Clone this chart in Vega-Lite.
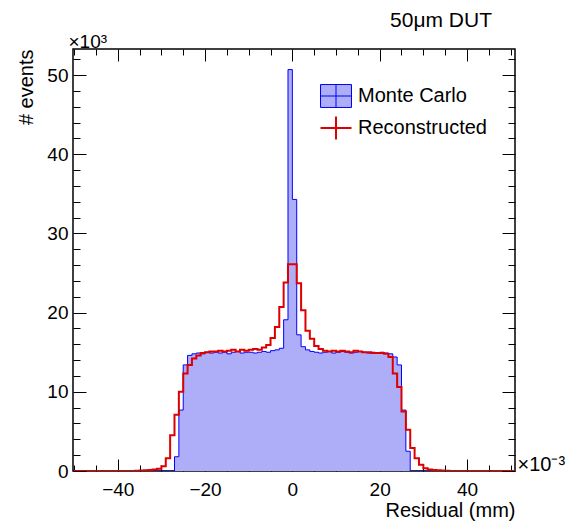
{
  "$schema": "https://vega.github.io/schema/vega-lite/v6.json",
  "width": 442,
  "height": 422,
  "autosize": {"type": "none"},
  "padding": {"left": 73, "top": 49, "right": 60, "bottom": 50},
  "background": "white",
  "config": {
    "view": {"stroke": "black", "strokeWidth": 1.5},
    "font": "Liberation Sans",
    "axis": {"domain": false, "grid": false, "tickColor": "black", "tickWidth": 1, "labelColor": "black", "titleColor": "black", "titleFontWeight": "normal", "labelFont": "Liberation Sans", "titleFont": "Liberation Sans"}
  },
  "title": {"text": "50μm DUT", "anchor": "end", "frame": "group", "fontSize": 21, "fontWeight": "normal", "font": "Liberation Sans", "color": "black", "offset": 1, "dx": -23},
  "data": {"values": [
    {"b": -50, "mc": 0, "rc": 0}, {"b": -49, "mc": 0, "rc": 0}, {"b": -48, "mc": 0, "rc": 0}, {"b": -47, "mc": 0, "rc": 0},
    {"b": -46, "mc": 0, "rc": 0}, {"b": -45, "mc": 0, "rc": 0}, {"b": -44, "mc": 0, "rc": 0}, {"b": -43, "mc": 0, "rc": 0},
    {"b": -42, "mc": 0, "rc": 0}, {"b": -41, "mc": 0, "rc": 0}, {"b": -40, "mc": 0, "rc": 0}, {"b": -39, "mc": 0, "rc": 0},
    {"b": -38, "mc": 0, "rc": 0}, {"b": -37, "mc": 0, "rc": 0}, {"b": -36, "mc": 0, "rc": 0.03}, {"b": -35, "mc": 0, "rc": 0.05},
    {"b": -34, "mc": 0, "rc": 0.08}, {"b": -33, "mc": 0, "rc": 0.12}, {"b": -32, "mc": 0, "rc": 0.2}, {"b": -31, "mc": 0, "rc": 0.3},
    {"b": -30, "mc": 0, "rc": 0.6}, {"b": -29, "mc": 0, "rc": 1.6}, {"b": -28, "mc": 0, "rc": 4.5}, {"b": -27, "mc": 1.8, "rc": 7.1},
    {"b": -26, "mc": 7.7, "rc": 10.0}, {"b": -25, "mc": 13.4, "rc": 12.3}, {"b": -24, "mc": 14.6, "rc": 13.4}, {"b": -23, "mc": 14.8, "rc": 14.2},
    {"b": -22, "mc": 14.9, "rc": 14.6}, {"b": -21, "mc": 14.8, "rc": 14.9}, {"b": -20, "mc": 15.0, "rc": 15.0}, {"b": -19, "mc": 14.9, "rc": 15.1},
    {"b": -18, "mc": 15.0, "rc": 15.1}, {"b": -17, "mc": 14.9, "rc": 15.2}, {"b": -16, "mc": 15.0, "rc": 15.1}, {"b": -15, "mc": 14.8, "rc": 15.2},
    {"b": -14, "mc": 15.0, "rc": 15.3}, {"b": -13, "mc": 15.1, "rc": 15.1}, {"b": -12, "mc": 14.9, "rc": 15.3}, {"b": -11, "mc": 15.0, "rc": 15.2},
    {"b": -10, "mc": 15.0, "rc": 15.3}, {"b": -9, "mc": 14.9, "rc": 15.4}, {"b": -8, "mc": 15.0, "rc": 15.3}, {"b": -7, "mc": 15.1, "rc": 15.6},
    {"b": -6, "mc": 15.0, "rc": 15.9}, {"b": -5, "mc": 15.2, "rc": 16.8}, {"b": -4, "mc": 15.3, "rc": 18.2}, {"b": -3, "mc": 15.5, "rc": 20.7},
    {"b": -2, "mc": 19.1, "rc": 23.8}, {"b": -1, "mc": 50.7, "rc": 26.1}, {"b": 0, "mc": 34.3, "rc": 26.1}, {"b": 1, "mc": 17.2, "rc": 23.7},
    {"b": 2, "mc": 15.7, "rc": 20.3}, {"b": 3, "mc": 15.3, "rc": 17.7}, {"b": 4, "mc": 15.1, "rc": 16.7}, {"b": 5, "mc": 15.0, "rc": 15.8},
    {"b": 6, "mc": 14.9, "rc": 15.4}, {"b": 7, "mc": 15.0, "rc": 15.2}, {"b": 8, "mc": 15.1, "rc": 15.1}, {"b": 9, "mc": 14.9, "rc": 15.2},
    {"b": 10, "mc": 15.0, "rc": 15.1}, {"b": 11, "mc": 15.1, "rc": 15.2}, {"b": 12, "mc": 15.0, "rc": 15.1}, {"b": 13, "mc": 14.9, "rc": 15.0},
    {"b": 14, "mc": 15.0, "rc": 15.2}, {"b": 15, "mc": 15.1, "rc": 15.1}, {"b": 16, "mc": 15.0, "rc": 15.0}, {"b": 17, "mc": 14.9, "rc": 15.0},
    {"b": 18, "mc": 15.0, "rc": 14.9}, {"b": 19, "mc": 14.9, "rc": 14.9}, {"b": 20, "mc": 15.0, "rc": 14.9}, {"b": 21, "mc": 14.9, "rc": 14.8},
    {"b": 22, "mc": 14.8, "rc": 14.4}, {"b": 23, "mc": 14.4, "rc": 12.3}, {"b": 24, "mc": 13.4, "rc": 10.6}, {"b": 25, "mc": 7.7, "rc": 7.5},
    {"b": 26, "mc": 2.5, "rc": 5.2}, {"b": 27, "mc": 0, "rc": 2.9}, {"b": 28, "mc": 0, "rc": 1.6}, {"b": 29, "mc": 0, "rc": 0.8},
    {"b": 30, "mc": 0, "rc": 0.35}, {"b": 31, "mc": 0, "rc": 0.2}, {"b": 32, "mc": 0, "rc": 0.12}, {"b": 33, "mc": 0, "rc": 0.08},
    {"b": 34, "mc": 0, "rc": 0.05}, {"b": 35, "mc": 0, "rc": 0.03}, {"b": 36, "mc": 0, "rc": 0}, {"b": 37, "mc": 0, "rc": 0},
    {"b": 38, "mc": 0, "rc": 0}, {"b": 39, "mc": 0, "rc": 0}, {"b": 40, "mc": 0, "rc": 0}, {"b": 41, "mc": 0, "rc": 0},
    {"b": 42, "mc": 0, "rc": 0}, {"b": 43, "mc": 0, "rc": 0}, {"b": 44, "mc": 0, "rc": 0}, {"b": 45, "mc": 0, "rc": 0},
    {"b": 46, "mc": 0, "rc": 0}, {"b": 47, "mc": 0, "rc": 0}, {"b": 48, "mc": 0, "rc": 0}, {"b": 49, "mc": 0, "rc": 0},
    {"b": 50, "mc": 0, "rc": 0}, {"b": 51, "mc": 0, "rc": 0}
  ]},
  "layer": [
    {
      "mark": {"type": "area", "interpolate": "step-after", "fill": "#aeaef8", "clip": true},
      "encoding": {
        "x": {"field": "b", "type": "quantitative", "scale": {"domain": [-50.25, 51], "nice": false, "zero": false},
          "axis": {"orient": "bottom", "values": [-40, -20, 0, 20, 40], "format": "d", "tickSize": -12, "labelPadding": 21, "labelFontSize": 19, "labelFlush": false, "labelOverlap": false,
            "title": "Residual (mm)", "titleAnchor": "end", "titleFontSize": 20, "titleBaseline": "alphabetic", "titleY": 45}},
        "y": {"field": "mc", "type": "quantitative", "scale": {"domain": [0, 53.3], "nice": false},
          "axis": {"orient": "left", "values": [0, 10, 20, 30, 40, 50], "format": "d", "tickSize": -13, "labelPadding": 18, "labelFontSize": 19, "labelFlush": false, "labelOverlap": false,
            "title": "# events", "titleAnchor": "end", "titleFontSize": 20, "titleBaseline": "alphabetic", "titleX": -41}}
      }
    },
    {
      "mark": {"type": "line", "interpolate": "step-after", "strokeWidth": 1, "clip": true},
      "encoding": {
        "x": {"field": "b", "type": "quantitative",
          "axis": {"orient": "bottom", "values": [-50, -45, -35, -30, -25, -15, -10, -5, 5, 10, 15, 25, 30, 35, 45, 50], "tickSize": -6, "labels": false,
            "title": "×10⁻³", "titleFontSize": 20, "titleAngle": 0, "titleAlign": "left", "titleBaseline": "alphabetic", "titleX": 444, "titleY": -1}},
        "y": {"field": "mc", "type": "quantitative",
          "axis": {"orient": "left", "values": [2, 4, 6, 8, 12, 14, 16, 18, 22, 24, 26, 28, 32, 34, 36, 38, 42, 44, 46, 48, 52], "tickSize": -7, "labels": false,
            "title": "×10³", "titleFontSize": 19, "titleAngle": 0, "titleAlign": "left", "titleBaseline": "alphabetic", "titleX": -5, "titleY": -2}},
        "stroke": {"datum": "Monte Carlo", "type": "nominal",
          "scale": {"domain": ["Monte Carlo", "Reconstructed"], "range": ["#0000ff", "#dd0000"]},
          "legend": {"orient": "none", "legendX": 253, "legendY": 37, "title": null, "padding": 0,
            "symbolSize": 961, "labelFont": "Liberation Sans", "labelFontSize": 20, "labelColor": "black", "labelOffset": 12, "rowPadding": 2,
            "encode": {"symbols": {"update": {
              "shape": {"signal": "datum.value === 'Monte Carlo' ? 'M-1,-0.74H1V0.74H-1ZM-1,0H1M0,-0.74V0.74' : 'M-1,0H1M0,-0.74V0.74'"},
              "fill": {"signal": "datum.value === 'Monte Carlo' ? '#aeaef8' : 'transparent'"},
              "strokeWidth": {"signal": "datum.value === 'Monte Carlo' ? 1 : 2"},
              "opacity": {"value": 1}
            }}}}
        }
      }
    },
    {
      "mark": {"type": "line", "interpolate": "step-after", "strokeWidth": 2, "clip": true},
      "encoding": {
        "x": {"field": "b", "type": "quantitative",
          "axis": {"orient": "top", "values": [-40, -20, 0, 20, 40], "tickSize": -12, "labels": false, "title": null}},
        "y": {"field": "rc", "type": "quantitative",
          "axis": {"orient": "right", "values": [0, 10, 20, 30, 40, 50], "tickSize": -13, "labels": false, "title": null}},
        "stroke": {"datum": "Reconstructed", "type": "nominal"}
      }
    },
    {
      "mark": {"type": "point", "opacity": 0},
      "encoding": {
        "x": {"field": "b", "type": "quantitative",
          "axis": {"orient": "top", "values": [-50, -45, -35, -30, -25, -15, -10, -5, 5, 10, 15, 25, 30, 35, 45, 50], "tickSize": -6, "labels": false, "title": null}},
        "y": {"field": "rc", "type": "quantitative",
          "axis": {"orient": "right", "values": [2, 4, 6, 8, 12, 14, 16, 18, 22, 24, 26, 28, 32, 34, 36, 38, 42, 44, 46, 48, 52], "tickSize": -7, "labels": false, "title": null}}
      }
    }
  ],
  "resolve": {"axis": {"x": "independent", "y": "independent"}}
}
